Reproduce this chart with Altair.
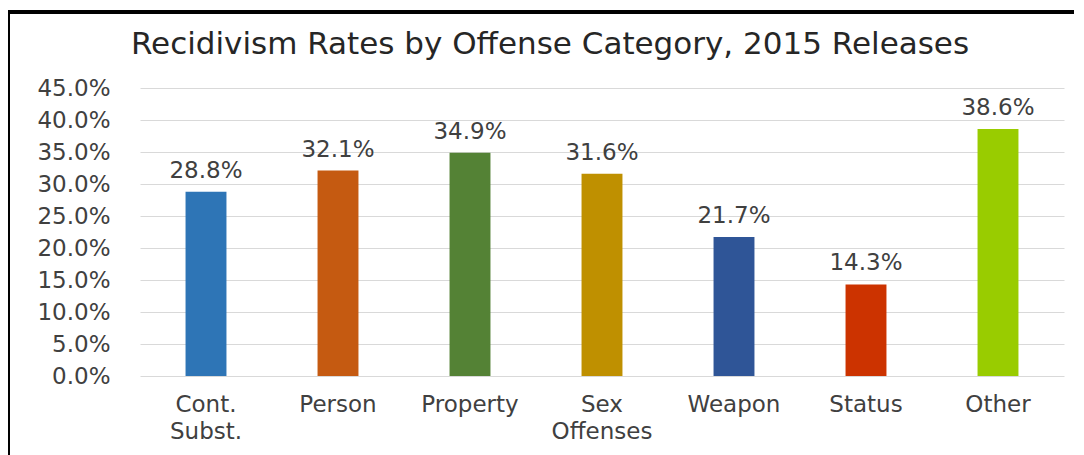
import altair as alt
import pandas as pd

categories = ["Cont.\nSubst.", "Person", "Property", "Sex\nOffenses", "Weapon", "Status", "Other"]
rates = [28.8, 32.1, 34.9, 31.6, 21.7, 14.3, 38.6]
colors = ["#2E75B6", "#C55A11", "#548235", "#BF9000", "#2F5597", "#CC3300", "#99CC00"]
y_ticks = [0, 5, 10, 15, 20, 25, 30, 35, 40, 45]
title_text = "Recidivism Rates by Offense Category, 2015 Releases"

df = pd.DataFrame({"cat": categories, "rate": rates, "color": colors,
                   "label": [f"{v:.1f}%" for v in rates]})

FONT = "DejaVu Sans"
TXT = "#404040"
FS = 23

x_enc = alt.X("cat:N", sort=categories, title=None,
              scale=alt.Scale(paddingInner=0.69, paddingOuter=0.345),
              axis=alt.Axis(labelExpr="split(datum.label, '\\n')", labelAngle=0,
                            labelFont=FONT, labelFontSize=FS, labelColor=TXT,
                            labelPadding=17, labelLineHeight=27, domain=False,
                            ticks=False, grid=False, labelBaseline="top"))
y_enc = alt.Y("rate:Q", title=None,
              scale=alt.Scale(domain=[0, 45], nice=False),
              axis=alt.Axis(values=y_ticks, labelExpr="format(datum.value, '.1f') + '%'",
                            labelFont=FONT, labelFontSize=FS, labelColor=TXT,
                            labelOverlap=False, labelBound=False,
                            labelPadding=30, domain=False, ticks=False,
                            gridColor="#D9D9D9", gridWidth=1))

bars = alt.Chart(df).mark_bar().encode(
    x=x_enc, y=y_enc, color=alt.Color("color:N", scale=None))

labels = alt.Chart(df).mark_text(font=FONT, fontSize=FS, color=TXT, baseline="bottom", dy=-9).encode(
    x=x_enc, y=y_enc, text="label:N")

title = alt.Chart(pd.DataFrame({"t": [title_text]})).mark_text(
    font=FONT, fontSize=31, color="#262626", baseline="middle", align="center").encode(
    x=alt.value(410), y=alt.value(-43), text="t:N")

frame_top = alt.Chart(df).mark_rule(color="black", strokeWidth=3, clip=False).encode(
    x=alt.value(-132), x2=alt.value(934), y=alt.value(-76))
frame_left = alt.Chart(df).mark_rule(color="black", strokeWidth=3, clip=False).encode(
    x=alt.value(-132), y=alt.value(-77), y2=alt.value(380))

chart = alt.layer(bars, labels, title, frame_top, frame_left).properties(
    width=924, height=288,
    background="white",
    autosize=alt.AutoSizeParams(type="none"),
    padding={"left": 132, "top": 80, "right": 10, "bottom": 80},
).configure_view(strokeWidth=0, stroke="transparent")

chart.save("out.html", embed_options={"renderer": "svg", "actions": False})
